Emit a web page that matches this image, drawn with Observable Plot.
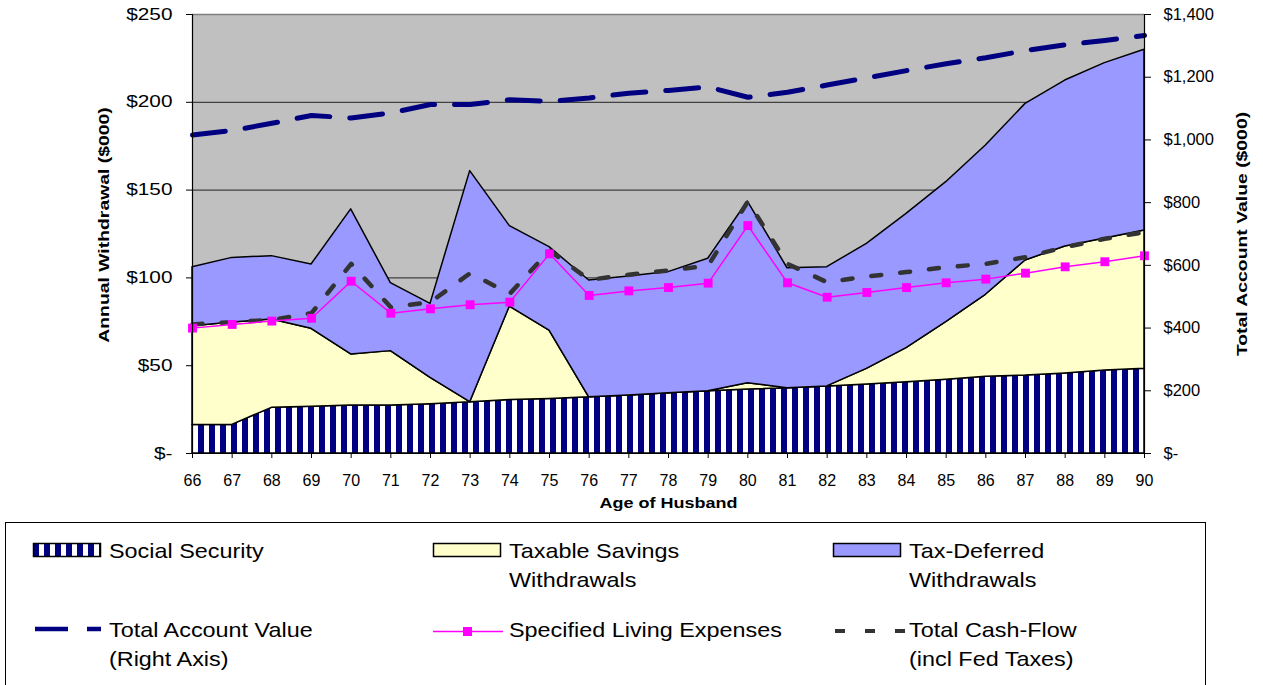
<!DOCTYPE html>
<html><head><meta charset="utf-8">
<script src="https://cdn.jsdelivr.net/npm/d3@7"></script>
<script src="https://cdn.jsdelivr.net/npm/@observablehq/plot@0.6"></script>
<style>
body{margin:0;background:#fff;font-family:"Liberation Sans",Arial,sans-serif;}
#wrap{position:relative;width:1263px;height:685px;overflow:hidden;}
#legend{position:absolute;left:0;top:515px;}
</style></head><body>
<div id="wrap"><div id="chart"></div><svg id="legend" width="1263" height="170"></svg></div>
<script>
// ---- data (values in $000) ----
const ages = [66,67,68,69,70,71,72,73,74,75,76,77,78,79,80,81,82,83,84,85,86,87,88,89,90];
const socialSecurity = [16.3,16.3,26,26.6,27.3,27.3,28.1,29.2,30.4,31.1,32,33,34.3,35.5,36.4,37.2,38.2,39.3,40.6,42,43.7,44.4,45.6,47.3,48.2];
const taxableSavings = [56.2,58.3,50.3,44.4,29.1,31,15,0,53.3,38.9,0,0,0,0,3.6,0,0,8.9,19.4,32.8,46.7,65.5,72.3,75.1,78.8];
const taxDeferred = [33.6,36.8,36.1,36.6,82.6,38.7,42.1,131.6,45.8,47.5,66.5,67.8,69,75.4,103.5,68.3,67.9,71.2,76.5,79.7,85,89.2,94.5,99.9,102.9];
const livingExpenses = [71.4,73.5,75.4,77,98.1,79.9,82.4,84.7,86.2,113.7,90,92.6,94.5,97,129.8,97.2,89,91.7,94.5,97.2,99.3,102.7,106.3,109.2,112.6];
const totalCashFlow = [73.5,74.8,76.1,79.9,108,83.3,86.2,102.7,91,115.6,98.9,101.8,104.2,107,143.5,108,97.5,100.8,103.3,106.1,108,111.8,117.5,122.3,126];
const accountValue = [1016,1030,1053,1078,1070,1086,1113,1113,1128,1123,1134,1149,1158,1169,1136,1152,1175,1198,1221,1243,1262,1285,1303,1317,1333];
const leftTicks = [0,50,100,150,200,250];
const rightTicks = [0,200,400,600,800,1000,1200,1400];
const leftMax = 250, rightMax = 1400;
const seriesNames = ["Social Security","Taxable Savings Withdrawals","Tax-Deferred Withdrawals"];
const seriesFills = ["url(#ssStripes)","#FFFFCC","#9999FF"];

const stackRows = [];
[socialSecurity, taxableSavings, taxDeferred].forEach((arr, s) =>
  arr.forEach((v, i) => stackRows.push({age: ages[i], value: v, series: seriesNames[s]})));
const rows = ages.map((a, i) => ({age: a, living: livingExpenses[i], cash: totalCashFlow[i], acct: accountValue[i]}));
const toLeft = v => v * leftMax / rightMax;

const FONT = '"Liberation Sans", Arial, sans-serif';
const chart = Plot.plot({
  width: 1263, height: 515,
  marginTop: 14, marginBottom: 62, marginLeft: 192, marginRight: 119,
  x: {domain: [66, 90]},
  y: {domain: [0, 250]},
  color: {domain: seriesNames, range: seriesFills},
  style: {fontFamily: FONT, fontSize: "16px", background: "white", color: "black", overflow: "visible"},
  marks: [
    Plot.frame({fill: "#C0C0C0", stroke: null}),
    Plot.ruleY([50, 100, 150, 200], {stroke: "#222", strokeWidth: 1}),
    Plot.ruleY([250], {stroke: "#808080", strokeWidth: 1.5}),
    Plot.areaY(stackRows, Plot.stackY({x: "age", y: "value", z: "series", fill: "series", stroke: "black", strokeWidth: 1.5})),
    Plot.line(rows, {x: "age", y: d => toLeft(d.acct), stroke: "#000080", strokeWidth: 5, strokeDasharray: "33,20"}),
    Plot.line(rows, {x: "age", y: "cash", stroke: "#333333", strokeWidth: 4.5, strokeDasharray: "10,19"}),
    Plot.line(rows, {x: "age", y: "living", stroke: "#FF00FF", strokeWidth: 1.5}),
    Plot.dot(rows, {x: "age", y: "living", symbol: "square", r: 5, fill: "#FF00FF", stroke: null}),
    Plot.ruleX([66, 90], {stroke: "black", strokeWidth: 1.2}),
    Plot.ruleY([0], {stroke: "black", strokeWidth: 1.2}),
    Plot.axisX({ticks: ages, tickFormat: d => String(d), tickSize: 5, tickPadding: 16, fontSize: 16, label: null}),
    Plot.axisY({ticks: leftTicks, tickFormat: d => d === 0 ? "$-" : "$" + d, tickSize: 6, tickPadding: 14, fontSize: 16, label: null}),
    Plot.axisY(rightTicks.map(toLeft), {anchor: "right", tickFormat: d => {const v = Math.round(d * rightMax / leftMax); return v === 0 ? "$-" : "$" + d3.format(",")(v);}, tickSize: 6, tickPadding: 13, fontSize: 16.5, label: null}),
    Plot.text(["Annual Withdrawal ($000)"], {text: d => d, frameAnchor: "left", dx: -88, dy: -9, rotate: -90, textAnchor: "middle", lineAnchor: "middle", fontWeight: "bold", fontSize: 15.5}),
    Plot.text(["Total Account Value ($000)"], {text: d => d, frameAnchor: "right", dx: 98, rotate: -90, textAnchor: "middle", lineAnchor: "middle", fontWeight: "bold", fontSize: 15.5}),
    Plot.text(["Age of Husband"], {text: d => d, frameAnchor: "bottom", dy: 50, textAnchor: "middle", lineAnchor: "middle", fontWeight: "bold", fontSize: 15})
  ]
});
document.getElementById("chart").appendChild(chart);
d3.select(chart).insert("defs", ":first-child").html(
  '<pattern id="ssStripes" patternUnits="userSpaceOnUse" x="0" y="0" width="11" height="10">' +
  '<rect width="11" height="10" fill="white"/><rect width="6" height="10" fill="#000080"/></pattern>');

// widen glyphs horizontally about each text's anchor (reference text is stretched)
function stretch(sel, k) {
  sel.each(function() {
    const b = this.getBBox();
    const anchor = getComputedStyle(this).textAnchor;
    const ax = anchor === "end" ? b.x + b.width : anchor === "middle" ? b.x + b.width / 2 : b.x;
    const ay = b.y + b.height / 2;
    if (!isFinite(ax) || !isFinite(ay)) return;
    const t = this.getAttribute("transform") || "";
    this.setAttribute("transform", `${t} translate(${ax},${ay}) scale(${k},1) translate(${-ax},${-ay})`.trim());
  });
}
const yAxes = d3.select(chart).selectAll('g[aria-label="y-axis tick label"]').nodes();
if (yAxes[0]) stretch(d3.select(yAxes[0]).selectAll("text"), 1.3);
const titles = d3.select(chart).selectAll('g[aria-label="text"]').nodes();
if (titles[0]) stretch(d3.select(titles[0]).selectAll("text"), 1.25);
if (titles[1]) stretch(d3.select(titles[1]).selectAll("text"), 1.25);
if (titles[2]) stretch(d3.select(titles[2]).selectAll("text"), 1.2);

// ---- legend ----
const lg = d3.select("#legend").style("font-family", FONT);
lg.append("rect").attr("x", 5.5).attr("y", 7.5).attr("width", 1200).attr("height", 200).attr("fill", "white").attr("stroke", "#000").attr("stroke-width", 1);
const swX = [33.5, 433.5, 833.5];
seriesFills.forEach((f, i) => lg.append("rect").attr("x", swX[i]).attr("y", 28.5).attr("width", 67).attr("height", 13).attr("fill", f).attr("stroke", "black").attr("stroke-width", 1.5));
const legendText = [
  {x: 109, y: 43, lines: ["Social Security"]},
  {x: 509, y: 43, lines: ["Taxable Savings", "Withdrawals"]},
  {x: 909, y: 43, lines: ["Tax-Deferred", "Withdrawals"]},
  {x: 109, y: 122, lines: ["Total Account Value", "(Right Axis)"]},
  {x: 509, y: 122, lines: ["Specified Living Expenses"]},
  {x: 909, y: 122, lines: ["Total Cash-Flow", "(incl Fed Taxes)"]}
];
legendText.forEach(t => t.lines.forEach((l, j) =>
  lg.append("text").attr("x", t.x).attr("y", t.y + j * 29).attr("font-size", 20).attr("fill", "black").text(l)));
stretch(lg.selectAll("text"), 1.17);
lg.append("line").attr("x1", 35).attr("x2", 101).attr("y1", 114).attr("y2", 114).attr("stroke", "#000080").attr("stroke-width", 4.5).attr("stroke-dasharray", "33,19");
lg.append("line").attr("x1", 433).attr("x2", 503).attr("y1", 116.5).attr("y2", 116.5).attr("stroke", "#FF00FF").attr("stroke-width", 1.5);
lg.append("rect").attr("x", 463).attr("y", 112).attr("width", 9).attr("height", 9).attr("fill", "#FF00FF");
lg.append("line").attr("x1", 835).attr("x2", 906).attr("y1", 116).attr("y2", 116).attr("stroke", "#333333").attr("stroke-width", 4).attr("stroke-dasharray", "10,20");
</script>
</body></html>
